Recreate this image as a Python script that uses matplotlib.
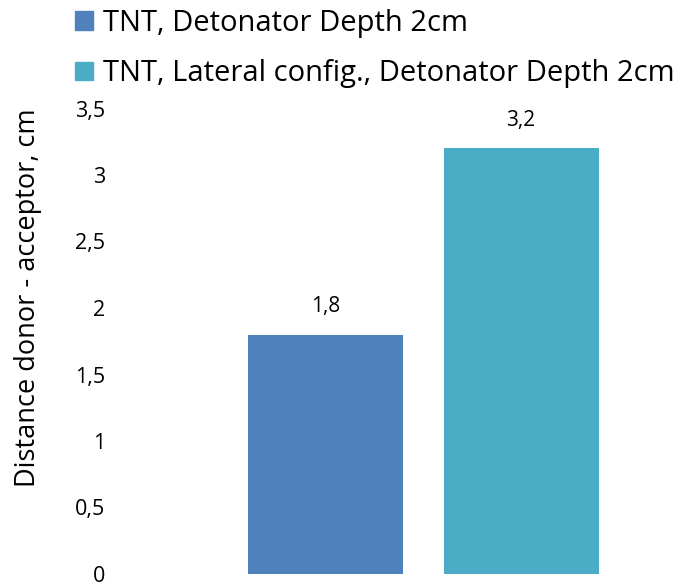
import matplotlib
matplotlib.use("Agg")
import matplotlib.pyplot as plt
from matplotlib.ticker import FuncFormatter

plt.rcParams['font.family'] = ['Open Sans', 'DejaVu Sans']

series = ["TNT, Detonator Depth 2cm", "TNT, Lateral config., Detonator Depth 2cm"]
values = [1.8, 3.2]
value_labels = ["1,8", "3,2"]
colors = ["#4F81BD", "#4BACC6"]
yticks = [0, 0.5, 1, 1.5, 2, 2.5, 3, 3.5]
ylabel = "Distance donor - acceptor, cm"

W, H = 681, 586
fig = plt.figure(figsize=(W / 100, H / 100), dpi=100)
left_px, right_px, top_px, bottom_px = 140, 680, 108.5, 574
ax = fig.add_axes([left_px / W, 1 - bottom_px / H, (right_px - left_px) / W, (bottom_px - top_px) / H])

unit = 195.5  # px between bar centers
x0 = 325.5    # px of first bar center
xs = list(range(len(values)))
width = 155 / unit
for i, (v, c, s) in enumerate(zip(values, colors, series)):
    ax.bar(xs[i], v, width=width, color=c, label=s, zorder=2)
    ax.annotate(value_labels[i], (xs[i], v), xytext=(0, 20), textcoords='offset points',
                ha='center', va='center', fontsize=15, color='#000000')

ax.set_xlim(-(x0 - left_px) / unit, (right_px - x0) / unit)
ax.set_ylim(0, 3.5)
ax.set_yticks(yticks)
ax.yaxis.set_major_formatter(FuncFormatter(lambda v, p: ('%g' % v).replace('.', ',')))
ax.tick_params(axis='y', length=0, labelsize=15.5, pad=25)
ax.set_xticks([])
for sp in ax.spines.values():
    sp.set_visible(False)

fig.text(28 / W, 1 - 298 / H, ylabel, rotation=90, ha='center', va='center', fontsize=19.5)

handles = [plt.Rectangle((0, 0), 1, 1, color=c) for c in colors]
fig.legend(handles, series, loc='upper left', bbox_to_anchor=(75 / W, 1 - 9 / H), frameon=False,
           fontsize=21, handlelength=0.62, handleheight=0.62, handletextpad=0.34, labelspacing=0.73,
           borderaxespad=0, borderpad=0)

fig.savefig("out.png", dpi=100)
